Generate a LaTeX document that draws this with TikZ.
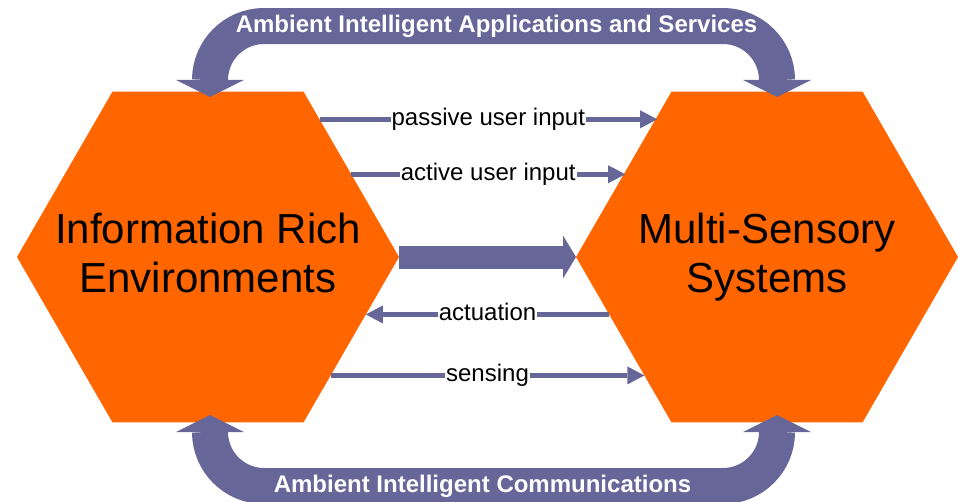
\documentclass[tikz,border=0pt]{standalone}
\usepackage{fontspec}
\setmainfont{Liberation Sans}
\usetikzlibrary{arrows.meta,shapes.geometric,positioning}

\definecolor{hexorange}{RGB}{255,102,0}
\definecolor{flowblue}{RGB}{102,102,153}

\tikzset{
  hexa/.style={regular polygon,regular polygon sides=6,minimum size=382pt,
    inner sep=0pt,outer sep=0pt,fill=hexorange},
  hexlabel/.style={align=center,font=\fontsize{42}{49}\selectfont,
    text depth=0pt,anchor=south,inner sep=0pt},
  flow/.style={color=flowblue,line width=4.5pt,
    -{Triangle[length=17pt,width=18pt,line width=0pt]}},
  lbl/.style={fill=white,text=black,inner sep=1pt,font=\fontsize{24}{28}\selectfont,
    text height=18pt,text depth=5.3pt},
  bigflow/.style={color=flowblue,line width=23pt,
    -{Triangle[length=13pt,width=43pt,line width=0pt]}},
  band/.style={color=flowblue,line width=36pt,rounded corners=54pt,
    {Triangle[length=17pt,width=68pt,line width=0pt]}-{Triangle[length=17pt,width=68pt,line width=0pt]}},
  bandtext/.style={text=white,font=\bfseries\fontsize{24}{28}\selectfont,
    anchor=base,inner sep=0pt}
}

\begin{document}
\begin{tikzpicture}[x=1pt,y=-1pt,node distance=177pt]
  \useasboundingbox (0,0) rectangle (958,501);
  % the two hexagons
  \node[hexa]                 (ire) at (208,257) {};
  \node[hexa, right=of ire]   (mss)              {};
  \node[hexlabel] (irelbl) at ([yshift=-36pt]ire.center) {Information Rich\\Environments};
  \node[hexlabel] (msslbl) at ([yshift=-36pt]mss.center) {Multi-Sensory\\Systems};
  % flows between them
  \path
  (ire.51.5)   edge[flow] node[lbl] {passive user input} (ire.51.5 -| mss.128.5)
  (ire.30.1)   edge[flow] node[lbl] {active user input}  (ire.30.1 -| mss.149.9)
  (mss.200.2)  edge[flow] node[lbl] {actuation}          (mss.200.2 -| ire.-20.2)
  (ire.-44.6)  edge[flow] node[lbl] {sensing}            (ire.-44.6 -| mss.224.6);
  \draw[bigflow] (ire.east) -- (mss.west);
  % ambient bands
  \coordinate (atl) at ([xshift=2pt,yshift=-5.4pt]ire.north);
  \coordinate (atr) at ([xshift=10pt,yshift=-5.4pt]mss.north);
  \coordinate (abl) at ([xshift=2pt,yshift=7.4pt]ire.south);
  \coordinate (abr) at ([xshift=10pt,yshift=7.4pt]mss.south);
  \draw[band] (atl) -- (atl |- 0,26) -- (atr |- 0,26) -- (atr);
  \draw[band] (abl) -- (abl |- 0,486) -- (abr |- 0,486) -- (abr);
  \node[bandtext] (apps) at (496.5,32) {Ambient Intelligent Applications and Services};
  \node[bandtext] (comm) at (482.5,492) {Ambient Intelligent Communications};
\end{tikzpicture}
\end{document}
